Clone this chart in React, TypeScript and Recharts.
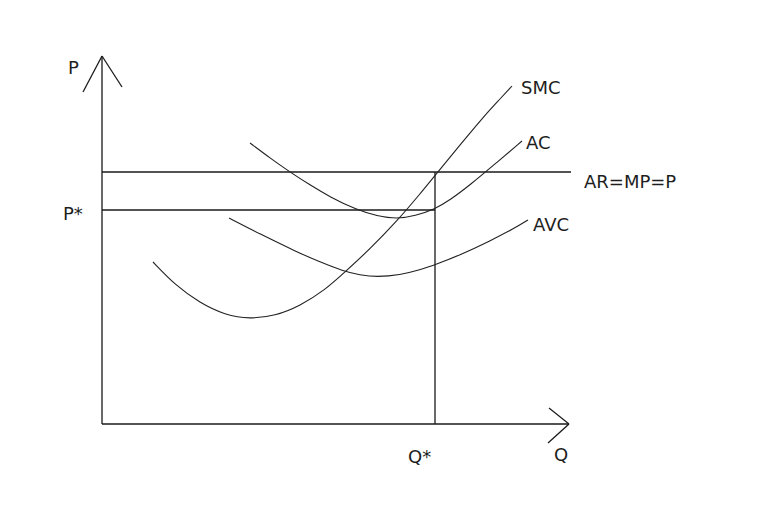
import React from 'react';
import { ComposedChart, Line, Scatter, XAxis, YAxis } from 'recharts';

// Coordinates: q = quantity units, p = price units (origin at axis intersection)
const smc = [
  { q: 51, p: 162 }, { q: 73, p: 139 }, { q: 98, p: 121 }, { q: 123, p: 109 },
  { q: 148, p: 105 }, { q: 173, p: 108 }, { q: 198, p: 118 }, { q: 223, p: 134 },
  { q: 243, p: 152 }, { q: 268, p: 175 }, { q: 295, p: 203 }, { q: 318, p: 230 },
  { q: 335, p: 251 }, { q: 358, p: 279 }, { q: 383, p: 309 }, { q: 398, p: 325 },
  { q: 410, p: 338 },
];
const ac = [
  { q: 148, p: 281 }, { q: 168, p: 266 }, { q: 188, p: 252 }, { q: 208, p: 239 },
  { q: 228, p: 227 }, { q: 255, p: 214 }, { q: 275, p: 208 }, { q: 295, p: 205 },
  { q: 313, p: 208 }, { q: 333, p: 215 }, { q: 348, p: 224 }, { q: 368, p: 239 },
  { q: 393, p: 260 }, { q: 420, p: 283 },
];
const avc = [
  { q: 127, p: 206 }, { q: 158, p: 190 }, { q: 195, p: 172 }, { q: 218, p: 162 },
  { q: 241, p: 153 }, { q: 258, p: 149 }, { q: 275, p: 147 }, { q: 298, p: 149 },
  { q: 318, p: 154 }, { q: 335, p: 160 }, { q: 358, p: 169 }, { q: 388, p: 183 },
  { q: 413, p: 196 }, { q: 426, p: 204 },
];
const priceLine = [{ q: 0, p: 252 }, { q: 469, p: 252 }];
const pStarLine = [{ q: 0, p: 214 }, { q: 333, p: 214 }];
const qStarLine = [{ q: 333, p: 252 }, { q: 333, p: 0 }];
const yAxisLine = [{ q: 0, p: 0 }, { q: 0, p: 368 }];
const yArrowLeft = [{ q: -19, p: 332 }, { q: 0, p: 368 }];
const yArrowRight = [{ q: 0, p: 368 }, { q: 20, p: 337 }];
const xAxisLine = [{ q: 0, p: 0 }, { q: 467, p: 0 }];
const xArrowUp = [{ q: 447, p: 16 }, { q: 467, p: 0 }];
const xArrowDown = [{ q: 446, p: -19 }, { q: 467, p: 0 }];

const labels = [
  { q: -34, p: 350, text: 'P' },
  { q: -39, p: 204, text: 'P*' },
  { q: 419, p: 330, text: 'SMC' },
  { q: 424, p: 275, text: 'AC' },
  { q: 482, p: 236, text: 'AR=MP=P' },
  { q: 431, p: 193, text: 'AVC' },
  { q: 306, p: -39, text: 'Q*' },
  { q: 452, p: -37, text: 'Q' },
];

const segs = [
  priceLine, pStarLine, qStarLine, yAxisLine, yArrowLeft, yArrowRight,
  xAxisLine, xArrowUp, xArrowDown,
];
const curves = [smc, ac, avc];

const LabelShape = (props: any) => {
  const { cx, cy, payload } = props;
  return (
    <text x={cx} y={cy} fill="#1e1e1e" fontSize={18}
      fontFamily="'DejaVu Sans', sans-serif" textAnchor="start">
      {payload.text}
    </text>
  );
};

export default function App() {
  return (
    <div style={{ position: 'absolute', left: 0, top: 0, width: 778, height: 508, background: '#fff' }}>
      <ComposedChart width={778} height={508} margin={{ top: 0, right: 0, bottom: 0, left: 0 }}>
        <XAxis type="number" dataKey="q" domain={[-102, 676]} hide allowDataOverflow />
        <YAxis type="number" dataKey="p" domain={[-84, 424]} hide allowDataOverflow />
        {segs.map((d, i) => (
          <Line key={'s' + i} data={d} dataKey="p" type="linear" stroke="#1a1a1a"
            strokeWidth={1.3} dot={false} activeDot={false} isAnimationActive={false} />
        ))}
        {curves.map((d, i) => (
          <Line key={'c' + i} data={d} dataKey="p" type="basis" stroke="#222"
            strokeWidth={1.1} dot={false} activeDot={false} isAnimationActive={false} />
        ))}
        <Scatter data={labels} dataKey="p" shape={LabelShape} isAnimationActive={false} />
      </ComposedChart>
    </div>
  );
}
